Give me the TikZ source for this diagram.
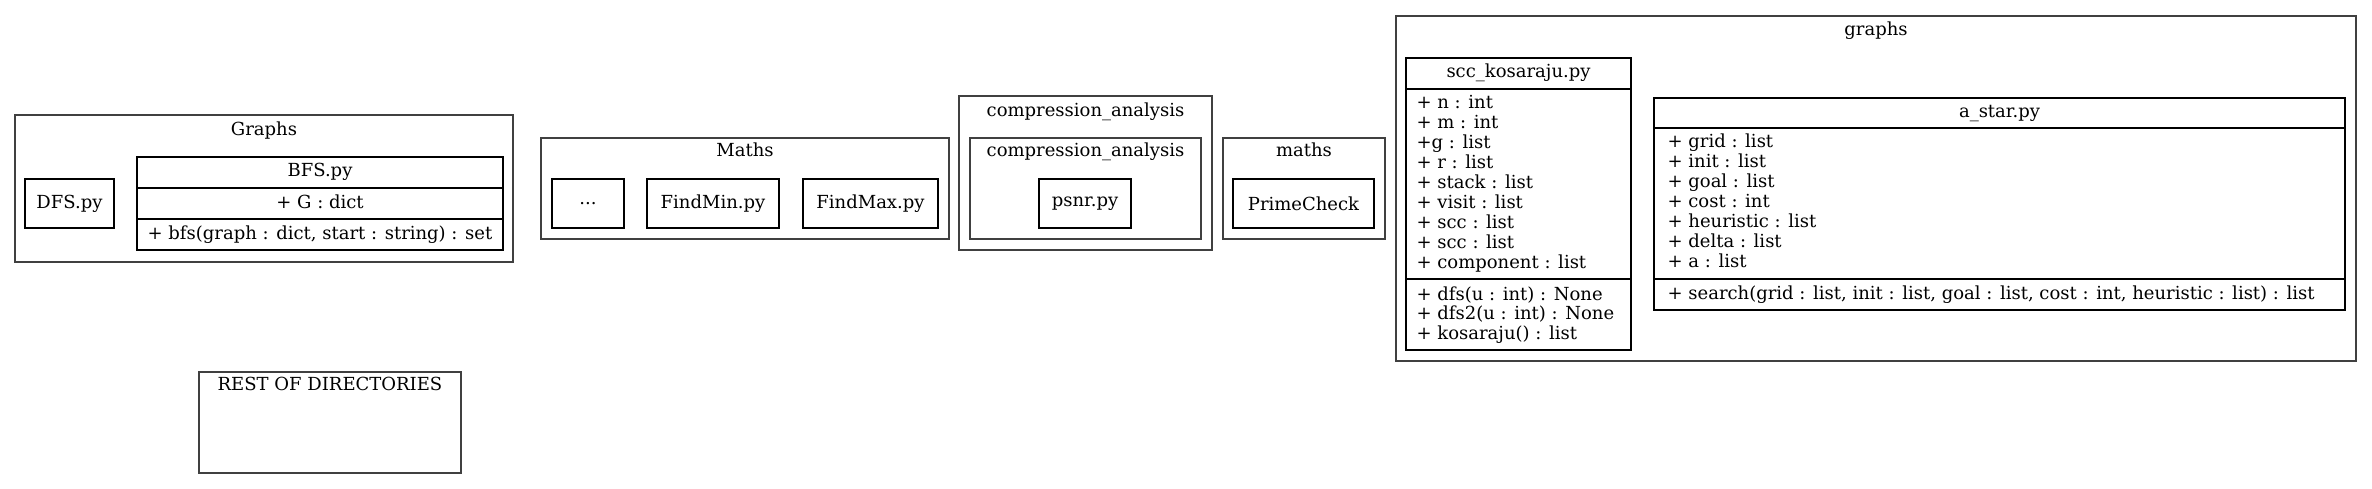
\documentclass[tikz,border=0pt]{standalone}
\usepackage{fontspec}
\setmainfont{DejaVu Serif}
\begin{document}
\begin{tikzpicture}[x=1pt, y=-1pt, line width=1.2pt,
    every node/.style={font=\fontsize{18}{19.9}\selectfont, inner sep=0pt},
    cluster/.style={draw, black!75},
    filebox/.style={draw, minimum height=49},
    title/.style={anchor=base},
    field/.style={anchor=base west}]
            \useasboundingbox (0,0) rectangle (2372,489);
            % Graphs
            \draw[cluster] (15,115) rectangle (513,262);
            \node[title] (graphsT) at (264,136) {Graphs};
            \node[filebox, minimum width=89] (dfs) at (69.5,203.5) {DFS.py};
            \draw (137,157) rectangle (503,250);
            \draw (137,188) -- (503,188);
            \draw (137,219) -- (503,219);
            \node[title] (bfs) at (320,177) {BFS.py};
            \node[title] (bfsAttr) at (320,208.5) {+ G : dict};
            \node[title] (bfsOp) at (320,239.5) {+ bfs(graph : dict, start : string) : set};
            % Maths
            \draw[cluster] (541,138) rectangle (949,239);
            \node[title] (mathsT) at (745,157) {Maths};
            \node[filebox, minimum width=72] (dots) at (588,203.5) {...};
            \node[filebox, minimum width=132] (findMin) at (713,203.5) {FindMin.py};
            \node[filebox, minimum width=135] (findMax) at (870.5,203.5) {FindMax.py};
            % compression_analysis
            \draw[cluster] (959,96) rectangle (1212,250);
            \node[title] (compT) at (1085.5,117) {compression\_analysis};
            \draw[cluster] (970,138) rectangle (1201,239);
            \node[title] (compInT) at (1085.5,157) {compression\_analysis};
            \node[filebox, minimum width=92] (psnr) at (1085,203.5) {psnr.py};
            % maths
            \draw[cluster] (1223,138) rectangle (1385,239);
            \node[title] (mathsLowT) at (1304,157) {maths};
            \node[filebox, minimum width=141] (prime) at (1303.5,203.5) {PrimeCheck};
            % graphs
            \draw[cluster] (1396,16) rectangle (2356,361);
            \node[title] (graphsLowT) at (1876,36) {graphs};
            \draw (1406,58) rectangle (1631,350);
            \draw (1406,89) -- (1631,89);
            \draw (1406,279) -- (1631,279);
            \node[title] (scc) at (1518.5,78) {scc\_kosaraju.py};
            \foreach \txt [count=\i from 0] in {+ n : int, + m : int, +g : list, + r : list,
                + stack : list, + visit : list, + scc : list, + scc : list, + component : list}
                \node[field] (sccAttr\i) at (1416,109+19.9*\i) {\txt};
            \foreach \txt [count=\i from 0] in {+ dfs(u : int) : None, + dfs2(u : int) : None, + kosaraju() : list}
                \node[field] (sccOp\i) at (1416,300+19.9*\i) {\txt};
            \draw (1654,98) rectangle (2345,310);
            \draw (1654,128) -- (2345,128);
            \draw (1654,279) -- (2345,279);
            \node[title] (astar) at (1999.5,118) {a\_star.py};
            \foreach \txt [count=\i from 0] in {+ grid : list, + init : list, + goal : list, + cost : int,
                + heuristic : list, + delta : list, + a : list}
                \node[field] (astarAttr\i) at (1667,148+19.9*\i) {\txt};
            \node[field] (astarOp) at (1667,299) {+ search(grid : list, init : list, goal : list, cost : int, heuristic : list) : list};
            % rest
            \draw[cluster] (199,372) rectangle (461,473);
            \node[title] (restT) at (330,390) {REST OF DIRECTORIES};
        \end{tikzpicture}
\end{document}
